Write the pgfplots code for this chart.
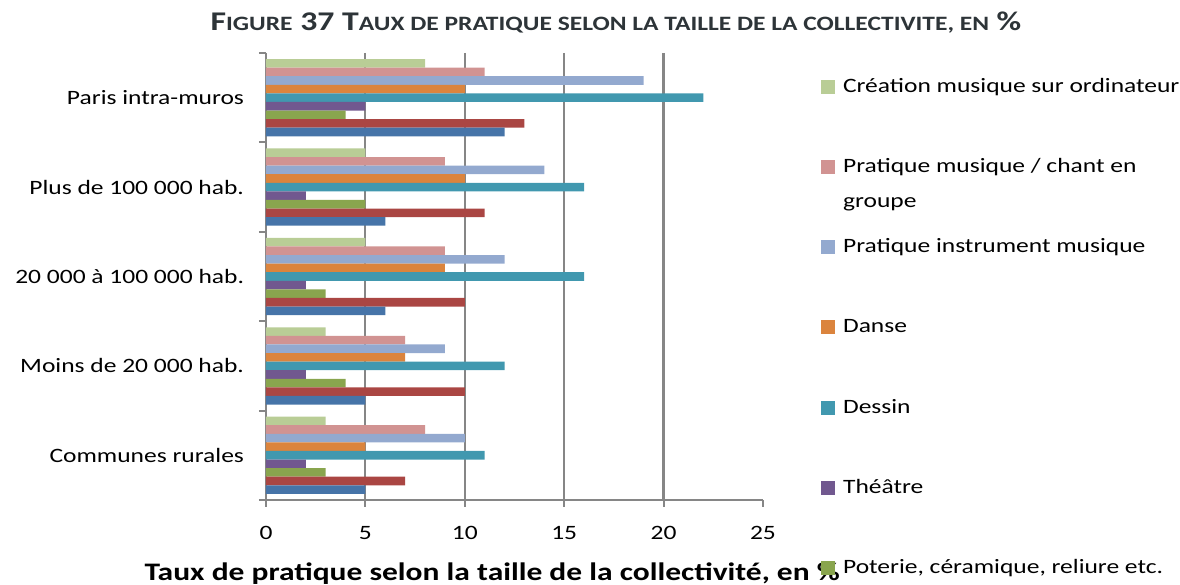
\documentclass[border=0pt]{standalone}
\usepackage{pgfplots}
\pgfplotsset{compat=1.18}
\usepackage{fontspec}
\setmainfont{Carlito}[FakeStretch=1.25]

\definecolor{cdblue}{HTML}{4674A8}
\definecolor{cdred}{HTML}{AA4643}
\definecolor{cgreen}{HTML}{89A54E}
\definecolor{cpurple}{HTML}{71588F}
\definecolor{cteal}{HTML}{4198AF}
\definecolor{corange}{HTML}{DB843D}
\definecolor{clblue}{HTML}{93A9CF}
\definecolor{cpink}{HTML}{D19392}
\definecolor{clgreen}{HTML}{B9CD96}
\definecolor{axgray}{HTML}{868686}
\definecolor{titlegray}{HTML}{2D3438}

\begin{document}
\begin{tikzpicture}
\begin{axis}[
    scale only axis,
    width=248.5pt, height=223.5pt,
    xbar=0pt, bar width=0.096,
    xmin=0, xmax=25, ymin=-0.5, ymax=4.5,
    y dir=reverse,
    axis lines*=left,
    axis line style={-, draw=axgray, line width=1pt},
    tick style={draw=axgray, line width=1pt},
    tick align=outside,
    major tick length=3.5pt,
    xtick={0,5,...,25},
    ytick={-0.5,0.5,...,4.5},
    y tick label as interval,
    yticklabels={Paris intra-muros, Plus de 100 000 hab., 20 000 à 100 000 hab., Moins de 20 000 hab., Communes rurales},
    extra x ticks={5,10,15},
    extra x tick labels={},
    extra x tick style={grid=major, major tick length=0pt},
    grid style={axgray, line width=1pt},
    ticklabel style={font=\fontsize{10.2}{12}\selectfont},
    /pgf/number format/assume math mode=true,
    yticklabel style={anchor=east, xshift=-4pt},
    xticklabel style={anchor=base, yshift=-16.5pt},
    xlabel={\bfseries Taux de pratique selon la taille de la collectivité, en \%},
    xlabel style={at={(axis description cs:0.455,0)}, anchor=base, yshift=-40.5pt, font=\fontsize{12.6}{14}\selectfont},
    legend cell align=left,
    legend image code/.code={\fill[#1] (0pt,-3.5pt) rectangle (7pt,3.5pt);},
    legend style={draw=none, fill=none, at={(1.104,1)}, anchor=north west,
        yshift=-8.5pt, row sep=27.6pt, column sep=2pt,
        font=\fontsize{10.2}{12}\selectfont,
        cells={anchor=west, inner sep=0pt, text height=7pt, text depth=0pt}},
]
\draw[axgray, line width=1.5pt] (axis cs:20,-0.5) -- (axis cs:20,4.5);
\addplot[fill=clgreen, draw=none] coordinates {(8,0) (5,1) (5,2) (3,3) (3,4)};
\addlegendentry{Création musique sur ordinateur}
\addplot[fill=cpink, draw=none] coordinates {(11,0) (9,1) (9,2) (7,3) (8,4)};
\addlegendentry{\makebox[0pt][l]{\raisebox{-17.5pt}[0pt][0pt]{groupe}}Pratique musique / chant en}
\addplot[fill=clblue, draw=none] coordinates {(19,0) (14,1) (12,2) (9,3) (10,4)};
\addlegendentry{Pratique instrument musique}
\addplot[fill=corange, draw=none] coordinates {(10,0) (10,1) (9,2) (7,3) (5,4)};
\addlegendentry{Danse}
\addplot[fill=cteal, draw=none] coordinates {(22,0) (16,1) (16,2) (12,3) (11,4)};
\addlegendentry{Dessin}
\addplot[fill=cpurple, draw=none] coordinates {(5,0) (2,1) (2,2) (2,3) (2,4)};
\addlegendentry{Théâtre}
\addplot[fill=cgreen, draw=none] coordinates {(4,0) (5,1) (3,2) (4,3) (3,4)};
\addlegendentry{Poterie, céramique, reliure etc.}
\addplot[fill=cdred, draw=none] coordinates {(13,0) (11,1) (10,2) (10,3) (7,4)};
\addplot[fill=cdblue, draw=none] coordinates {(12,0) (6,1) (6,2) (5,3) (5,4)};
\end{axis}
\node[anchor=base, text=titlegray, font=\bfseries\fontsize{13.5}{15}\selectfont]
    at ([shift={(175pt,11.2pt)}]current axis.north west)
    {F{\fontsize{10.2}{12}\selectfont IGURE} 37 T{\fontsize{10.2}{12}\selectfont AUX DE PRATIQUE SELON LA TAILLE DE LA COLLECTIVITE, EN} \%};
\pgfresetboundingbox
\path[use as bounding box] ([shift={(-133pt,-42.5pt)}]current axis.south west) rectangle ([shift={(457pt,26.5pt)}]current axis.north west);
\end{tikzpicture}
\end{document}
